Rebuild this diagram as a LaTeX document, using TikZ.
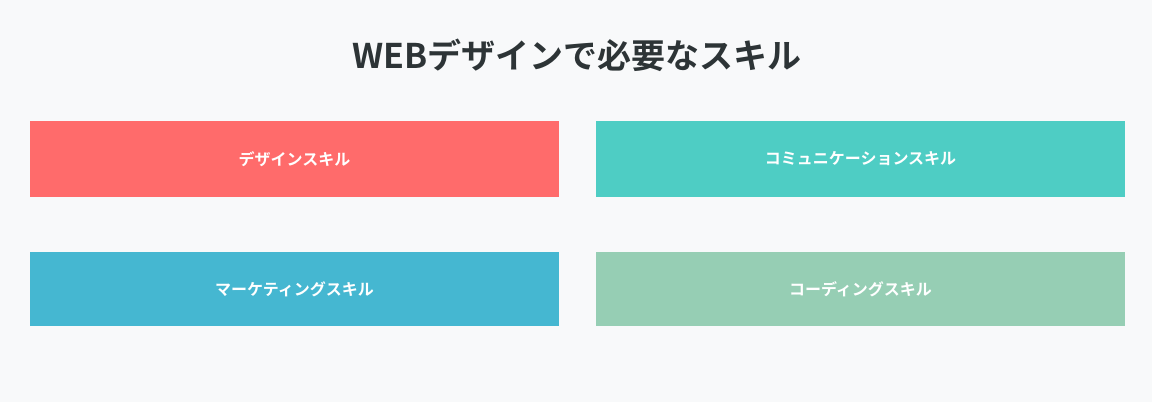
\documentclass[tikz,border=0pt]{standalone}
\usepackage{fontspec}
\setmainfont{Noto Sans CJK JP}[BoldFont={Noto Sans CJK JP Bold}]
\usepackage{tikz}
\usetikzlibrary{positioning}

\definecolor{bgcol}{HTML}{F8F9FA}
\definecolor{titlecol}{HTML}{2D3436}
\definecolor{designcol}{HTML}{FF6B6B}
\definecolor{commcol}{HTML}{4ECDC4}
\definecolor{marketcol}{HTML}{45B7D1}
\definecolor{codecol}{HTML}{96CEB4}

\tikzset{
  skillbox/.style={rectangle, minimum width=529pt, minimum height=76pt,
    inner sep=0pt, text=white, font=\fontsize{16}{19}\selectfont\bfseries},
}

\begin{document}
\begin{tikzpicture}[x=1pt, y=-1pt, node distance=566pt and 566pt, on grid]
  \fill[bgcol] (0,0) rectangle (1152,402);
  \useasboundingbox (0,0) rectangle (1152,402);

  \node[text=titlecol, font=\fontsize{34}{40}\selectfont\bfseries] (title) at (577,55) {WEBデザインで必要なスキル};

  \node[skillbox, fill=designcol] (design) at (294.5,159) {デザインスキル};
  \node[skillbox, fill=commcol] (comm) [right=of design] {コミュニケーションスキル};
  \node[skillbox, fill=marketcol, minimum height=74pt] (market) [below=130pt of design] {マーケティングスキル};
  \node[skillbox, fill=codecol, minimum height=74pt] (code) [right=of market] {コーディングスキル};
\end{tikzpicture}
\end{document}
